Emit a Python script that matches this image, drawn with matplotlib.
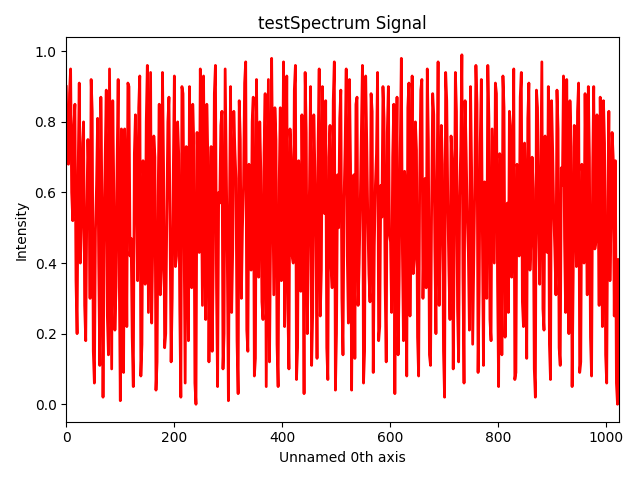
import numpy as np
import matplotlib.pyplot as plt

# intensity samples, even samples
intensity_a = [
    0.90, 0.68, 0.95, 0.52, 0.85, 0.20, 0.91, 0.50, 0.80, 0.18, 0.75, 0.30, 0.83, 0.06, 0.62, 0.40,
    0.87, 0.02, 0.70, 0.25, 0.95, 0.10, 0.60, 0.33, 0.92, 0.01, 0.55, 0.78, 0.22, 0.90, 0.47, 0.05,
    0.82, 0.35, 0.93, 0.17, 0.58, 0.80, 0.26, 0.94, 0.45, 0.70, 0.12, 0.85, 0.38, 0.68, 0.20, 0.80,
    0.50, 0.30, 0.93, 0.42, 0.71, 0.02, 0.88, 0.06, 0.60, 0.90, 0.33, 0.74, 0.00, 0.65, 0.95, 0.28,
    0.52, 0.85, 0.12, 0.73, 0.40, 0.96, 0.05, 0.57, 0.83, 0.20, 0.68, 0.01, 0.90, 0.44, 0.72, 0.18,
    0.86, 0.30, 0.62, 0.97, 0.15, 0.54, 0.80, 0.08, 0.92, 0.36, 0.66, 0.24, 0.88, 0.48, 0.12, 0.98,
    0.31, 0.75, 0.05, 0.84, 0.55, 0.22, 0.93, 0.10, 0.70, 0.40, 0.96, 0.16, 0.61, 0.82, 0.03, 0.77,
    0.45, 0.90, 0.26, 0.67, 0.13, 0.95, 0.38, 0.58, 0.86, 0.07, 0.79, 0.33, 0.97, 0.20, 0.50, 0.89,
    0.14, 0.73, 0.42, 0.92, 0.04, 0.65, 0.85, 0.28, 0.57, 0.96, 0.15, 0.74, 0.37, 0.88, 0.09, 0.62,
    0.94, 0.22, 0.53, 0.81, 0.12, 0.90, 0.46, 0.70, 0.03, 0.87, 0.35, 0.98, 0.18, 0.60, 0.84, 0.25,
    0.93, 0.41, 0.72, 0.08, 0.89, 0.30, 0.64, 0.95, 0.14, 0.55, 0.82, 0.20, 0.97, 0.48, 0.68, 0.02,
    0.86, 0.38, 0.76, 0.10, 0.94, 0.27, 0.59, 0.99, 0.06, 0.71, 0.43, 0.90, 0.17, 0.63, 0.85, 0.32,
    0.92, 0.11, 0.52, 0.96, 0.24, 0.78, 0.40, 0.88, 0.05, 0.69, 0.93, 0.19, 0.57, 0.83, 0.36, 0.95,
    0.09, 0.66, 0.87, 0.29, 0.74, 0.13, 0.91, 0.47, 0.61, 0.02, 0.84, 0.34, 0.97, 0.21, 0.55, 0.90,
    0.07, 0.72, 0.44, 0.89, 0.16, 0.67, 0.93, 0.26, 0.58, 0.86, 0.05, 0.79, 0.39, 0.91, 0.12, 0.64,
    0.88, 0.31, 0.70, 0.08, 0.90, 0.46, 0.60, 0.87, 0.22, 0.74, 0.06, 0.83, 0.52, 0.70, 0.69, 0.00,
]
# odd samples
intensity_b = [
    0.72, 0.88, 0.60, 0.79, 0.35, 0.66, 0.40, 0.74, 0.28, 0.55, 0.64, 0.92, 0.15, 0.49, 0.81, 0.11,
    0.58, 0.44, 0.89, 0.14, 0.52, 0.86, 0.21, 0.67, 0.37, 0.78, 0.09, 0.63, 0.91, 0.42, 0.19, 0.71,
    0.57, 0.84, 0.08, 0.69, 0.34, 0.96, 0.61, 0.23, 0.76, 0.04, 0.59, 0.31, 0.94, 0.16, 0.53, 0.87,
    0.12, 0.65, 0.39, 0.80, 0.27, 0.90, 0.45, 0.73, 0.18, 0.51, 0.85, 0.06, 0.77, 0.43, 0.62, 0.93,
    0.24, 0.70, 0.48, 0.15, 0.88, 0.33, 0.60, 0.79, 0.10, 0.95, 0.41, 0.56, 0.26, 0.83, 0.64, 0.03,
    0.75, 0.50, 0.91, 0.21, 0.68, 0.38, 0.87, 0.13, 0.59, 0.80, 0.29, 0.71, 0.05, 0.92, 0.46, 0.66,
    0.84, 0.17, 0.63, 0.35, 0.97, 0.50, 0.27, 0.78, 0.42, 0.89, 0.07, 0.69, 0.32, 0.55, 0.94, 0.20,
    0.61, 0.11, 0.82, 0.47, 0.74, 0.25, 0.90, 0.54, 0.16, 0.70, 0.39, 0.86, 0.04, 0.65, 0.81, 0.30,
    0.58, 0.95, 0.23, 0.68, 0.49, 0.13, 0.87, 0.40, 0.76, 0.06, 0.93, 0.52, 0.29, 0.83, 0.45, 0.71,
    0.18, 0.62, 0.90, 0.34, 0.77, 0.48, 0.26, 0.85, 0.59, 0.14, 0.72, 0.43, 0.66, 0.08, 0.91, 0.55,
    0.37, 0.80, 0.19, 0.64, 0.92, 0.51, 0.33, 0.75, 0.11, 0.88, 0.44, 0.61, 0.28, 0.79, 0.15, 0.94,
    0.57, 0.24, 0.69, 0.46, 0.83, 0.12, 0.73, 0.36, 0.86, 0.53, 0.21, 0.67, 0.40, 0.96, 0.09, 0.74,
    0.48, 0.63, 0.30, 0.81, 0.18, 0.58, 0.91, 0.35, 0.71, 0.14, 0.84, 0.45, 0.26, 0.79, 0.52, 0.07,
    0.68, 0.42, 0.94, 0.22, 0.56, 0.81, 0.38, 0.70, 0.10, 0.89, 0.50, 0.65, 0.27, 0.76, 0.43, 0.17,
    0.86, 0.54, 0.31, 0.78, 0.11, 0.62, 0.47, 0.92, 0.20, 0.73, 0.36, 0.55, 0.83, 0.09, 0.68, 0.40,
    0.57, 0.90, 0.19, 0.66, 0.44, 0.82, 0.28, 0.61, 0.86, 0.14, 0.58, 0.35, 0.77, 0.25, 0.06, 0.41,
]
intensity = np.ravel(np.column_stack([intensity_a, intensity_b]))
channel = np.linspace(0, 1023, len(intensity))

fig, ax = plt.subplots(figsize=(6.4, 4.8), dpi=100)
ax.plot(channel, intensity, color='red', linewidth=2)
ax.set_xlim(0, 1023)
ax.set_title('testSpectrum Signal')
ax.set_xlabel('Unnamed 0th axis')
ax.set_ylabel('Intensity')
fig.tight_layout()
fig.savefig('out.png')
